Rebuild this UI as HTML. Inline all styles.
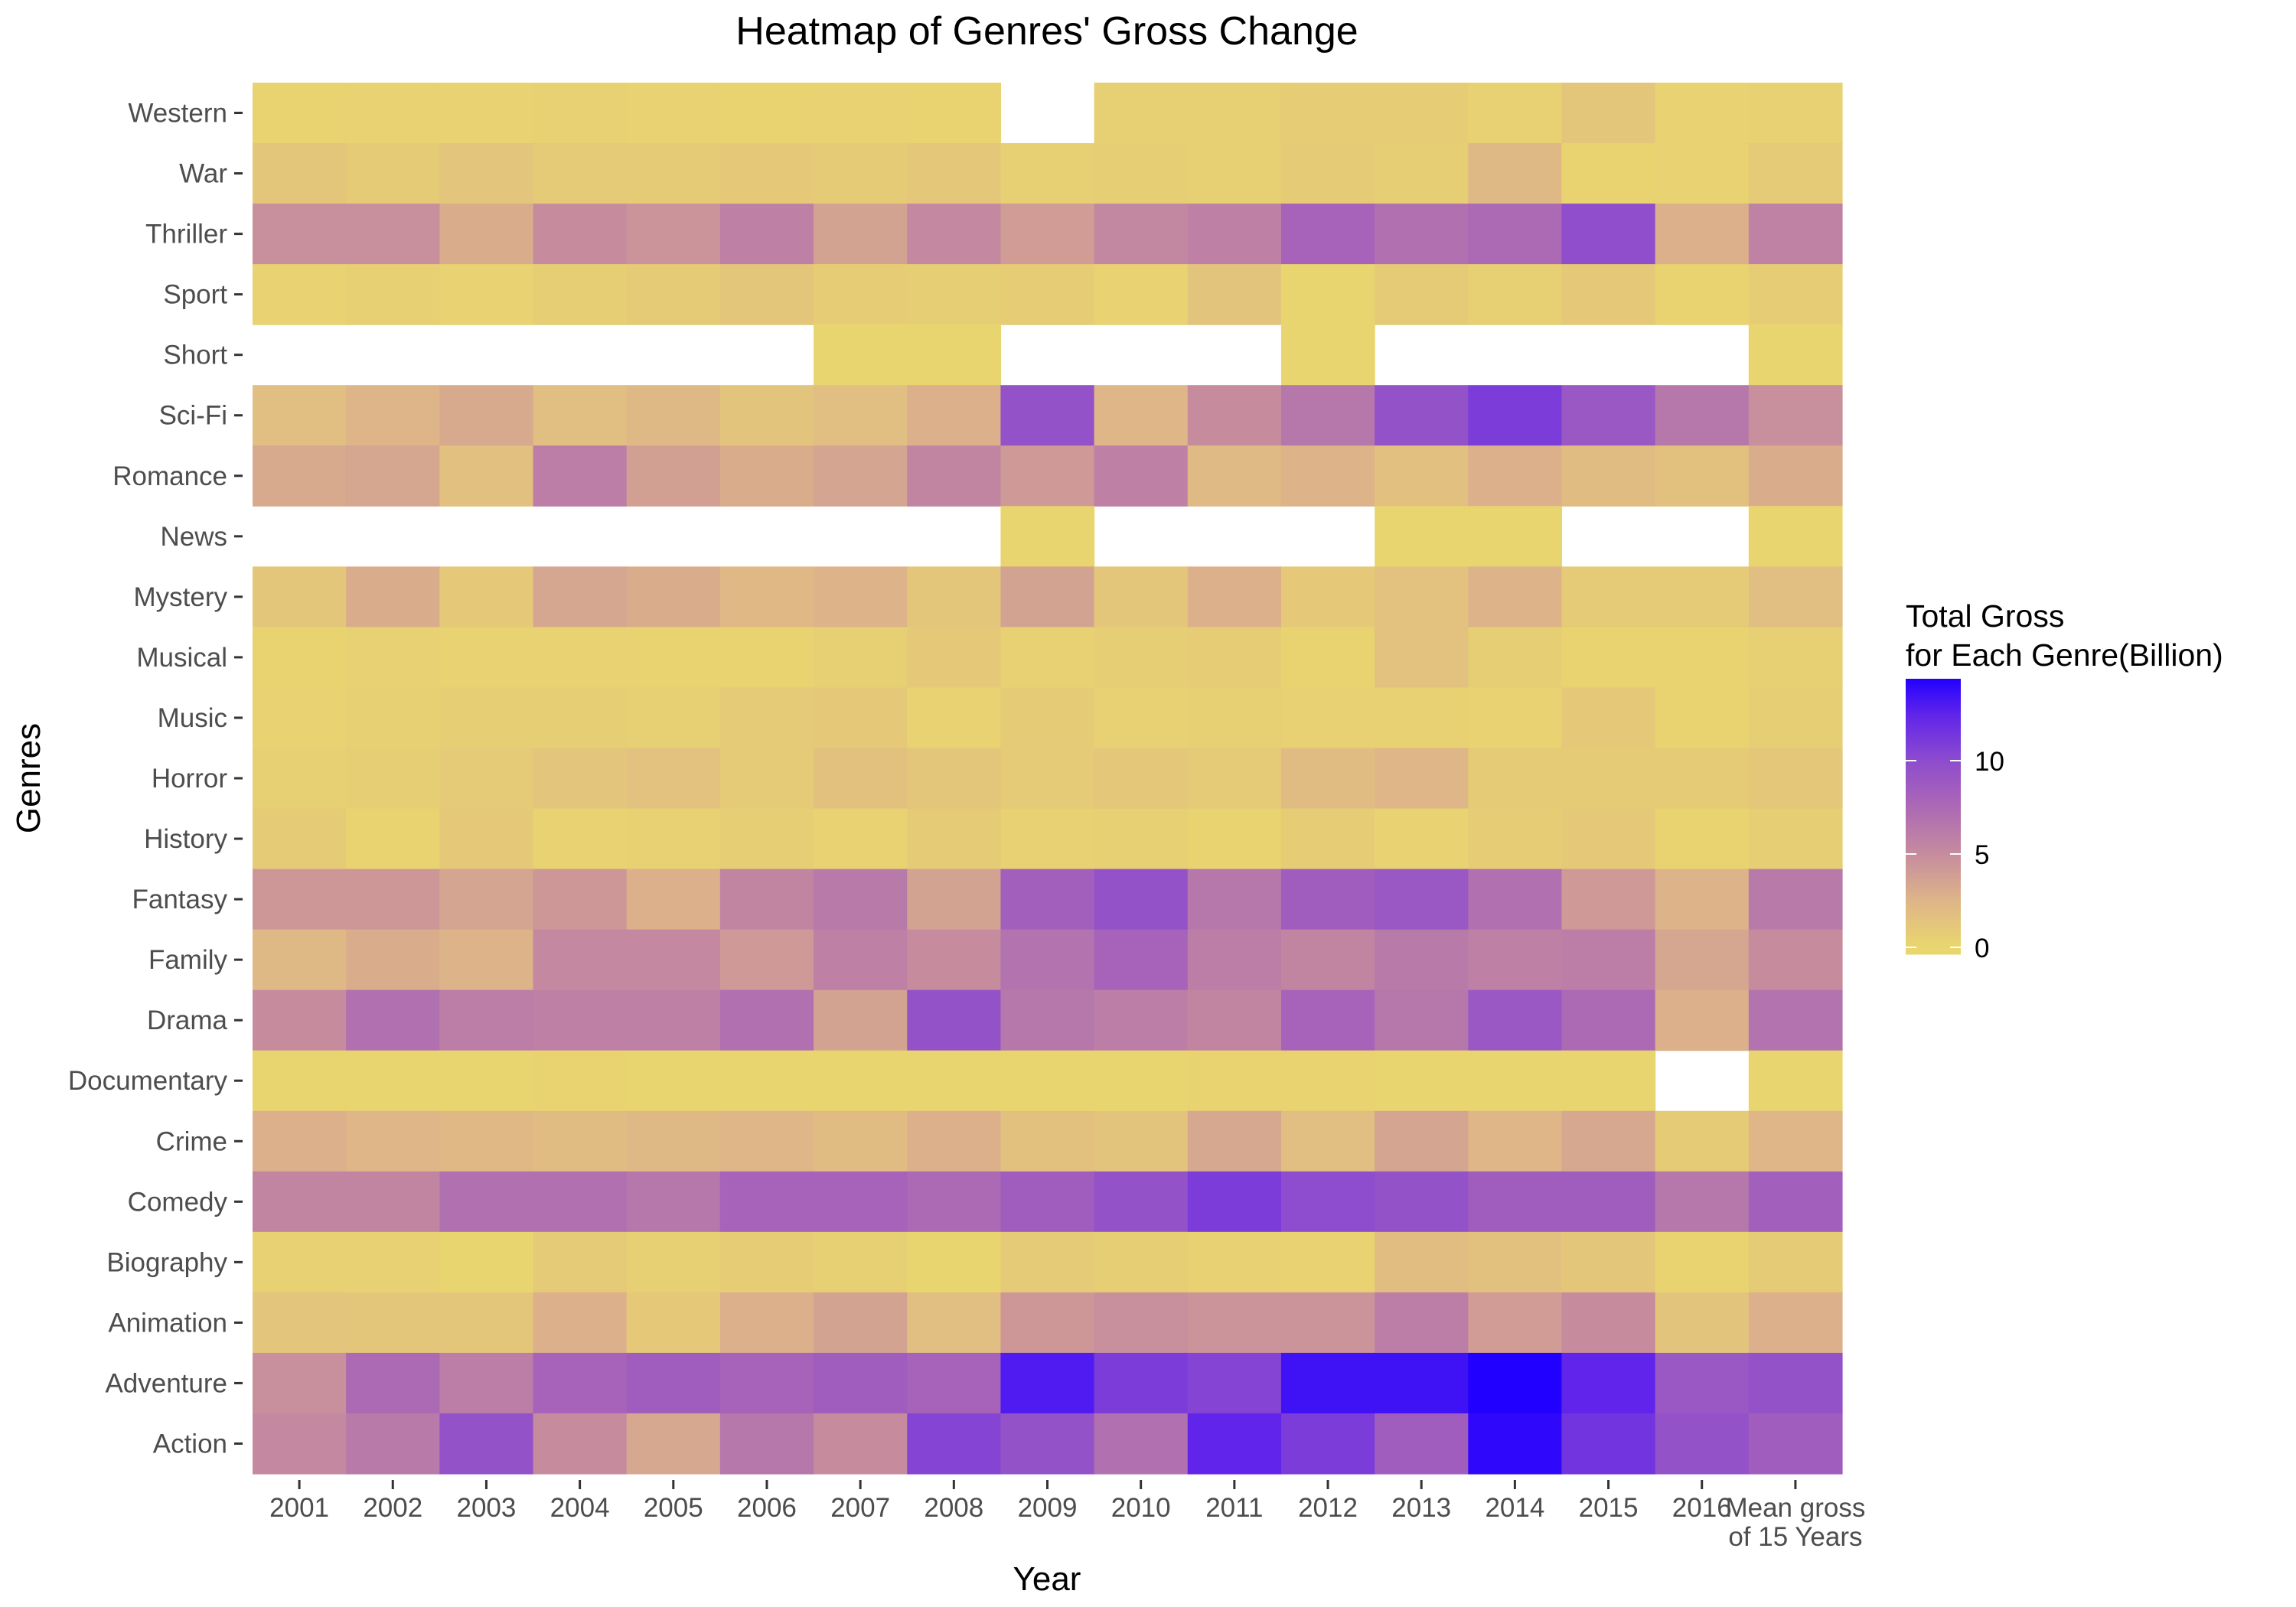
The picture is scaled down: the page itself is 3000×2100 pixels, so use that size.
<!DOCTYPE html>
<html><head><meta charset="utf-8"><style>
html,body{margin:0;padding:0;background:#fff;}
svg{display:block;font-family:"Liberation Sans",Arial,sans-serif;}
</style></head><body>
<svg id="chart" width="3000" height="2100" viewBox="0 0 3000 2100">
<text x="1368" y="58" font-size="52" text-anchor="middle" fill="#000">Heatmap of Genres' Gross Change</text>
<text x="1368" y="2078" font-size="44" text-anchor="middle" fill="#000">Year</text>
<text transform="translate(52,1017) rotate(-90)" font-size="44" text-anchor="middle" fill="#000">Genres</text>
<g id="cells"></g>
<g id="yaxis"></g>
<g id="xaxis"></g>
<g id="legend">
<text x="2490" y="819" font-size="41" fill="#000">Total Gross</text>
<text x="2490" y="870" font-size="41" fill="#000">for Each Genre(Billion)</text>
</g>
</svg>
<script>
const columns = ["2001","2002","2003","2004","2005","2006","2007","2008","2009","2010","2011","2012","2013","2014","2015","2016","Mean gross|of 15 Years"];
const genres = ["Western","War","Thriller","Sport","Short","Sci-Fi","Romance","News","Mystery","Musical","Music","Horror","History","Fantasy","Family","Drama","Documentary","Crime","Comedy","Biography","Animation","Adventure","Action"];
const N = null;
const westernVals = [0.2,0.3,0.3,0.4,0.3,0.2,0.3,0.2,N,0.5,0.5,0.7,0.7,0.4,1.2,0.3,0.4];
const warVals = [1.2,0.8,1.3,0.9,0.8,1.0,0.8,1.1,0.5,0.6,0.5,0.8,0.6,2.2,0.2,0.3,0.9];
const thrillerVals = [4.8,4.8,3.0,5.0,4.5,5.8,3.6,5.2,4.0,5.3,5.8,8.0,7.0,7.5,9.8,2.8,5.7];
const sportVals = [0.3,0.5,0.3,0.6,0.8,1.2,0.7,0.6,0.7,0.3,1.4,0.1,0.8,0.5,1.0,0.2,0.7];
const shortVals = [N,N,N,N,N,N,0.1,0.1,N,N,N,0.1,N,N,N,N,0.1];
const scifiVals = [1.8,2.5,3.2,1.8,2.2,1.4,1.8,2.8,9.5,2.4,5.0,6.5,9.5,11.0,9.0,6.5,4.8];
const romanceVals = [3.2,3.4,1.7,6.0,3.8,3.0,3.5,5.5,4.2,5.8,2.1,2.6,1.7,2.8,2.0,1.6,3.0];
const newsVals = [N,N,N,N,N,N,N,N,0.1,N,N,N,0.1,0.1,N,N,0.1];
const mysteryVals = [1.2,3.0,1.0,3.4,3.0,2.3,2.6,1.2,3.6,1.2,2.8,1.0,1.5,2.6,0.9,0.9,1.8];
const musicalVals = [0.2,0.4,0.3,0.3,0.2,0.2,0.5,1.0,0.4,0.6,0.7,0.2,1.5,0.6,0.2,0.2,0.5];
const musicVals = [0.3,0.5,0.6,0.6,0.5,0.9,1.0,0.3,0.8,0.4,0.5,0.4,0.4,0.3,1.0,0.2,0.6];
const horrorVals = [0.5,0.6,0.9,1.3,1.5,0.9,1.6,1.2,0.9,1.1,0.9,2.0,2.4,0.8,0.8,0.8,1.1];
const historyVals = [0.8,0.2,1.0,0.3,0.4,0.6,0.3,0.8,0.4,0.5,0.2,0.7,0.3,0.7,1.0,0.2,0.6];
const fantasyVals = [4.3,4.3,3.5,4.3,2.8,5.5,6.3,3.6,8.3,9.5,6.5,8.5,9.0,7.0,4.2,2.6,6.3];
const familyVals = [2.2,3.0,2.6,5.2,5.2,4.2,5.8,5.0,6.8,8.0,6.0,5.5,6.3,5.8,6.0,3.4,5.0];
const dramaVals = [5.0,7.0,6.0,5.8,5.8,7.0,3.6,9.5,6.5,6.0,5.5,8.0,6.5,9.0,7.5,2.8,6.8];
const documentaryVals = [0.1,0.1,0.1,0.2,0.1,0.1,0.1,0.1,0.1,0.1,0.2,0.2,0.1,0.1,0.1,N,0.1];
const crimeVals = [2.8,2.4,2.3,2.0,2.2,2.4,2.0,2.8,1.6,1.4,3.3,1.8,3.5,2.4,3.3,0.8,2.4];
const comedyVals = [5.5,5.5,7.0,7.0,6.5,8.0,8.0,7.5,8.5,9.5,11.0,10.0,9.5,8.5,8.5,6.5,8.3];
const biographyVals = [0.4,0.4,0.1,0.9,0.5,0.7,0.5,0.1,0.9,0.6,0.4,0.3,1.9,1.6,1.2,0.2,0.8];
const animationVals = [1.3,1.2,1.2,2.8,1.0,2.8,3.6,1.8,4.3,4.8,4.5,4.5,6.0,4.0,5.0,1.4,2.8];
const adventureVals = [4.8,7.5,6.0,8.0,8.5,8.0,8.5,8.0,13.0,11.0,10.5,13.5,13.5,14.4,12.5,9.0,9.5];
const actionVals = [5.2,6.3,9.5,5.0,3.3,6.5,5.0,10.5,9.5,7.0,12.5,11.0,8.5,14.0,11.5,9.5,8.5];
const legendTicks = [0,5,10];

const rows = [westernVals,warVals,thrillerVals,sportVals,shortVals,scifiVals,romanceVals,newsVals,mysteryVals,musicalVals,musicVals,horrorVals,historyVals,fantasyVals,familyVals,dramaVals,documentaryVals,crimeVals,comedyVals,biographyVals,animationVals,adventureVals,actionVals];

const NS = "http://www.w3.org/2000/svg";
const X0 = 330, X1 = 2407, Y0 = 108, Y1 = 1926;
const cw = (X1 - X0) / columns.length, rh = (Y1 - Y0) / genres.length;
function xPos(i){ return X0 + i * cw; }
function yPos(j){ return Y0 + j * rh; }
const stops = [[0,[233,214,110]],[2.5,[222,181,136]],[5,[198,140,158]],[7.5,[172,105,180]],[10,[142,76,206]],[12.5,[96,36,234]],[14.4,[34,0,255]]];
function color(v){
  if (v <= stops[0][0]) return "rgb(" + stops[0][1].join(",") + ")";
  for (let k = 1; k < stops.length; k++){
    if (v <= stops[k][0]){
      const a = stops[k-1], b = stops[k], t = (v - a[0]) / (b[0] - a[0]);
      return "rgb(" + a[1].map((c, m) => Math.round(c + (b[1][m] - c) * t)).join(",") + ")";
    }
  }
  return "rgb(" + stops[stops.length-1][1].join(",") + ")";
}
function el(tag, attrs, parent){
  const e = document.createElementNS(NS, tag);
  for (const k in attrs) e.setAttribute(k, attrs[k]);
  parent.appendChild(e);
  return e;
}
const cells = document.getElementById("cells");
rows.forEach((vals, j) => {
  vals.forEach((v, i) => {
    if (v === null) return;
    const r = el("rect", {x: xPos(i), y: yPos(j), width: cw + 0.6, height: rh + 0.6, fill: color(v)}, cells);
    
    
  });
});
const yaxis = document.getElementById("yaxis");
genres.forEach((g, j) => {
  const cy = yPos(j) + rh / 2;
  const t = el("line", {x1: 306, x2: 317, y1: cy, y2: cy, stroke: "#333", "stroke-width": 3}, yaxis);
  
  
  const l = el("text", {x: 297, y: cy + 12, "font-size": 35, "text-anchor": "end", fill: "#4D4D4D"}, yaxis);
  l.textContent = g;
  
  
});
const xaxis = document.getElementById("xaxis");
columns.forEach((c, i) => {
  const cx = xPos(i) + cw / 2;
  const t = el("line", {x1: cx, x2: cx, y1: 1934, y2: 1946, stroke: "#333", "stroke-width": 3}, xaxis);
  
  
  c.split("|").forEach((part, k) => {
    const l = el("text", {x: cx, y: 1982 + k * 38, "font-size": 35, "text-anchor": "middle", fill: "#4D4D4D"}, xaxis);
    l.textContent = part;
    
    
  });
});
const legend = document.getElementById("legend");
const LB0 = 1238, per = 24.4, LT = 887, LB = 1247;
for (let y = LT; y < LB; y += 2){
  const v = (LB0 - (y + 1)) / per;
  const r = el("rect", {x: 2490, y: y, width: 72, height: 2.5, fill: color(v)}, legend);
  
  
}
legendTicks.forEach(v => {
  const y = LB0 - v * per;
  const a = el("line", {x1: 2490, x2: 2504, y1: y, y2: y, stroke: "#fff", "stroke-width": 2}, legend);
  
  
  const b = el("line", {x1: 2548, x2: 2562, y1: y, y2: y, stroke: "#fff", "stroke-width": 2}, legend);
  
  
  const l = el("text", {x: 2580, y: y + 13, "font-size": 35, fill: "#000"}, legend);
  l.textContent = v;
  
  
});
</script>
</body></html>
